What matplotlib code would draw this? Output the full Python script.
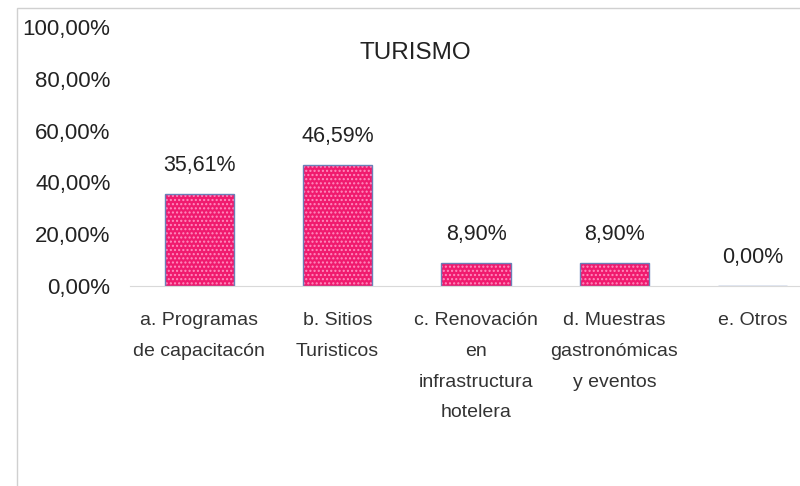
import matplotlib.pyplot as plt
from matplotlib.patches import Rectangle

categorias = ['a. Programas\nde capacitacón', 'b. Sitios\nTuristicos',
              'c. Renovación\nen\ninfrastructura\nhotelera',
              'd. Muestras\ngastronómicas\ny eventos', 'e. Otros']
valores = [35.61, 46.59, 8.90, 8.90, 0.00]
ticks_y = [0, 20, 40, 60, 80, 100]

plt.rcParams['font.family'] = ['Liberation Sans', 'DejaVu Sans']


def pct(v):
    return f"{v:.2f}".replace('.', ',') + '%'


fig = plt.figure(figsize=(8, 4.86), dpi=100)
fig.patches.append(Rectangle((17 / 800, -0.1), 1.2, 1.1 - 8 / 486,
                             transform=fig.transFigure, fill=False,
                             edgecolor='#D0D0D0', linewidth=1))

ax = fig.add_axes([0.1625, 0.4115, 0.865, 0.533])
x = range(len(valores))
bars = ax.bar(x, valores, width=0.5, color='#F01A6E', edgecolor='#6A80B8',
              linewidth=1, hatch='....')
for b in bars:
    b._hatch_color = (1, 0.55, 0.75, 1)

for xi, v in zip(x, valores):
    ax.annotate(pct(v), (xi, v), xytext=(0, 13), textcoords='offset points',
                ha='center', va='bottom', fontsize=15.5, color='#222222')

ax.set_xlim(-0.5, 4.5)
ax.set_ylim(0, 100)
ax.set_yticks(ticks_y)
ax.set_yticklabels([pct(t) for t in ticks_y], fontsize=16, color='#222222')
ax.set_xticks(list(x))
ax.set_xticklabels(categorias, fontsize=14, color='#333333', linespacing=2.05)
ax.tick_params(axis='both', length=0)
ax.tick_params(axis='y', pad=14)
ax.tick_params(axis='x', pad=19)

for s in ['top', 'right', 'left']:
    ax.spines[s].set_visible(False)
ax.spines['bottom'].set_color('#D9D9D9')

ax.text(0.412, 0.90, 'TURISMO', transform=ax.transAxes, ha='center',
        va='center', fontsize=17.5, color='#222222')

fig.savefig('out.png', dpi=100)
